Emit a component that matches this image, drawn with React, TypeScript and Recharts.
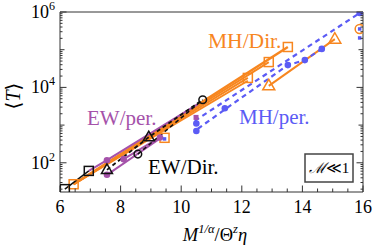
import React from 'react';
import { ComposedChart, Line, Scatter, XAxis, YAxis, Customized } from 'recharts';

const FONT = '"Liberation Serif", "DejaVu Serif", serif';
const ORANGE = '#F7861F';
const BLUE = '#5B5BF5';
const PURPLE = '#A552AA';
const BLACK = '#111111';
const AXIS = '#333333';

// ---- tick values ----
const xTicks = [6, 6.5, 7, 7.5, 8, 8.5, 9, 9.5, 10, 10.5, 11, 11.5, 12, 12.5, 13, 13.5, 14, 14.5, 15, 15.5, 16];
const xLabels = [6, 8, 10, 12, 14, 16];
const yTicks = [
  20, 30, 40, 50, 60, 70, 80, 90,
  100, 200, 300, 400, 500, 600, 700, 800, 900,
  1000, 2000, 3000, 4000, 5000, 6000, 7000, 8000, 9000,
  10000, 20000, 30000, 40000, 50000, 60000, 70000, 80000, 90000,
  100000, 200000, 300000, 400000, 500000, 600000, 700000, 800000, 900000,
  1000000,
];
const yLabels = [100, 10000, 1000000];
const yMidDecades = [1000, 100000];

// ---- EW/Dir. (black) ----
const ewDirSolid = [{ x: 6.16, y: 20 }, { x: 6.95, y: 61 }];
const ewDirDashA = [{ x: 7.55, y: 65 }, { x: 8.93, y: 480 }, { x: 10.71, y: 4700 }];
const ewDirDashB = [{ x: 8.57, y: 170 }, { x: 10.71, y: 4700 }];
const ewDirSquares = [{ x: 6.16, y: 20 }, { x: 6.95, y: 61 }];
const ewDirTriangles = [{ x: 7.55, y: 65 }, { x: 8.93, y: 480 }];
const ewDirCircles = [{ x: 8.57, y: 170 }, { x: 10.71, y: 4700 }];

// ---- EW/per. (purple) ----
const ewPerA = [{ x: 6.95, y: 61 }, { x: 7.55, y: 117 }, { x: 10.55, y: 3600 }];
const ewPerB = [{ x: 7.55, y: 48 }, { x: 9.35, y: 470 }];
const ewPerC = [{ x: 8.1, y: 125 }, { x: 9.35, y: 500 }];
const ewPerDots = [{ x: 7.55, y: 117 }, { x: 7.55, y: 48 }, { x: 8.1, y: 125 }, { x: 9.3, y: 470 }];
const ewPerSquares = [{ x: 10.49, y: 1600 }];

// ---- MH/Dir. (orange) ----
const mhDirA = [{ x: 6.45, y: 27 }, { x: 13.52, y: 118000 }];
const mhDirB = [{ x: 6.45, y: 27 }, { x: 12.89, y: 47000 }];
const mhDirC = [{ x: 6.45, y: 27 }, { x: 12.2, y: 17800 }];
const mhDirD = [{ x: 6.45, y: 27 }, { x: 12.2, y: 15000 }];
const mhDirTri = [{ x: 12.89, y: 11000 }, { x: 15.07, y: 190000 }];
const mhDirSquares = [
  { x: 6.45, y: 27 }, { x: 9.45, y: 460 }, { x: 12.2, y: 17800 },
  { x: 12.89, y: 47000 }, { x: 13.52, y: 118000 },
];
const mhDirTriangles = [{ x: 12.89, y: 11000 }, { x: 15.07, y: 190000 }];
const mhDirCircles = [{ x: 15.89, y: 355000 }];

// ---- MH/per. (blue) ----
const mhPerUpper = [{ x: 10.45, y: 1300 }, { x: 15.89, y: 940000 }];
const mhPerLower = [
  { x: 10.55, y: 800 }, { x: 11.44, y: 2600 }, { x: 13.52, y: 39000 },
  { x: 14.08, y: 53000 }, { x: 14.64, y: 105000 },
];
const mhPerDots = [
  { x: 10.5, y: 1100 }, { x: 10.5, y: 700 }, { x: 11.44, y: 2800 },
  { x: 13.52, y: 39000 }, { x: 14.08, y: 53000 }, { x: 14.64, y: 105000 },
  { x: 15.89, y: 940000 },
];
const mhPerSmall = [{ x: 15.89, y: 205000 }, { x: 15.89, y: 355000 }, { x: 9.45, y: 430 }];

const M = 10;

function isMajorX(v: number) {
  return xLabels.indexOf(v) >= 0;
}
function yKind(v: number) {
  if (yLabels.indexOf(v) >= 0) return 2;
  if (yMidDecades.indexOf(v) >= 0) return 1;
  return 0;
}
const yLen = [2.5, 4.5, 6.5];

function BottomTick(props: any) {
  const { x, y, payload } = props;
  const v = payload.value;
  const ay = y - M;
  const major = isMajorX(v);
  return (
    <g>
      <line x1={x} x2={x} y1={ay} y2={ay - (major ? 6.5 : 3.5)} stroke={AXIS} strokeWidth={1} />
      {major && (
        <text x={x} y={ay + 21} textAnchor="middle" fontSize={18} fontFamily={FONT} fill="#000">
          {v}
        </text>
      )}
    </g>
  );
}
function TopTick(props: any) {
  const { x, y, payload } = props;
  const v = payload.value;
  const ay = y + M;
  const major = isMajorX(v);
  return <line x1={x} x2={x} y1={ay} y2={ay + (major ? 6.5 : 3.5)} stroke={AXIS} strokeWidth={1} />;
}
function LeftTick(props: any) {
  const { x, y, payload } = props;
  const v = payload.value;
  const ax = x + M;
  const k = yKind(v);
  const exp = Math.round(Math.log10(v));
  return (
    <g>
      <line x1={ax} x2={ax + yLen[k]} y1={y} y2={y} stroke={AXIS} strokeWidth={1} />
      {k === 2 && (
        <text x={ax - 5} y={y + 6} textAnchor="end" fontSize={18} fontFamily={FONT} fill="#000">
          <tspan>10</tspan>
          <tspan dy={-8} fontSize={12}>{exp}</tspan>
        </text>
      )}
    </g>
  );
}
function RightTick(props: any) {
  const { x, y, payload } = props;
  const v = payload.value;
  const ax = x - M;
  const k = yKind(v);
  return <line x1={ax} x2={ax - yLen[k]} y1={y} y2={y} stroke={AXIS} strokeWidth={1} />;
}

const openSquare = (color: string, s: number) => (p: any) => (
  <rect x={p.cx - s / 2} y={p.cy - s / 2} width={s} height={s} fill="none" stroke={color} strokeWidth={1.5} />
);
const openTriangle = (color: string, s: number) => (p: any) => {
  const h = s * 0.87;
  const pts = `${p.cx},${p.cy - h * 0.62} ${p.cx - s / 2},${p.cy + h * 0.38} ${p.cx + s / 2},${p.cy + h * 0.38}`;
  return <polygon points={pts} fill="none" stroke={color} strokeWidth={1.5} />;
};
const openCircle = (color: string, r: number) => (p: any) => (
  <circle cx={p.cx} cy={p.cy} r={r} fill="none" stroke={color} strokeWidth={1.5} />
);
const dot = (color: string, r: number) => (p: any) => <circle cx={p.cx} cy={p.cy} r={r} fill={color} />;
const filledSquare = (color: string, s: number) => (p: any) => (
  <rect x={p.cx - s / 2} y={p.cy - s / 2} width={s} height={s} fill={color} />
);

function Annotations() {
  return (
    <g fontFamily={FONT}>
      <text x={208} y={48} fontSize={21.5} fill={ORANGE}>MH/Dir.</text>
      <text x={87} y={125} fontSize={21} fill={PURPLE}>EW/per.</text>
      <text x={239} y={124} fontSize={21} fill={BLUE}>MH/per.</text>
      <text x={148} y={174} fontSize={21} fill="#000">EW/Dir.</text>
      <rect x={305} y={154} width={48} height={28} fill="#fff" stroke="#444" strokeWidth={1.5} />
      <text x={329} y={173} fontSize={15} textAnchor="middle" fill="#000">
        <tspan fontStyle="italic">ℳ</tspan>
        <tspan>≪1</tspan>
      </text>
      <text x={215} y={241} fontSize={18.5} textAnchor="middle" fill="#000" fontStyle="italic">
        <tspan>M</tspan>
        <tspan dy={-8} fontSize={12.5}>1/α</tspan>
        <tspan dy={8} fontStyle="normal">/Θ</tspan>
        <tspan dy={-8} fontSize={12.5}>z</tspan>
        <tspan dy={8}>η</tspan>
      </text>
      <text x={13} y={96} fontSize={20} textAnchor="middle" fill="#000" transform="rotate(-90 13 96)" dominantBaseline="central">
        <tspan fontFamily='"DejaVu Serif", serif'>⟨</tspan>
        <tspan fontStyle="italic">T</tspan>
        <tspan fontFamily='"DejaVu Serif", serif'>⟩</tspan>
      </text>
    </g>
  );
}

export default function App() {
  const lineCommon = { dot: false, isAnimationActive: false, type: 'linear' as const, dataKey: 'y' };
  return (
    <div style={{ position: 'absolute', left: 0, top: 0, background: '#fff' }}>
      <ComposedChart width={374} height={251} margin={{ top: 11, right: 10, bottom: 29, left: 0 }}>
        <XAxis
          xAxisId={0}
          dataKey="x"
          type="number"
          domain={[6, 16]}
          allowDataOverflow
          ticks={xTicks}
          interval={0}
          tickSize={0}
          tickMargin={M}
          height={30}
          tick={<BottomTick />}
          axisLine={{ stroke: AXIS, strokeWidth: 1 }}
        />
        <XAxis
          xAxisId="top"
          orientation="top"
          type="number"
          domain={[6, 16]}
          allowDataOverflow
          ticks={xTicks}
          interval={0}
          tickSize={0}
          tickMargin={M}
          height={1}
          tick={<TopTick />}
          axisLine={{ stroke: AXIS, strokeWidth: 1 }}
        />
        <YAxis
          yAxisId={0}
          dataKey="y"
          type="number"
          scale="log"
          domain={[16.8, 1000000]}
          allowDataOverflow
          ticks={yTicks}
          interval={0}
          tickSize={0}
          tickMargin={M}
          width={60}
          tick={<LeftTick />}
          axisLine={{ stroke: AXIS, strokeWidth: 1 }}
        />
        <YAxis
          yAxisId="right"
          orientation="right"
          type="number"
          scale="log"
          domain={[16.8, 1000000]}
          allowDataOverflow
          ticks={yTicks}
          interval={0}
          tickSize={0}
          tickMargin={M}
          width={1}
          tick={<RightTick />}
          axisLine={{ stroke: AXIS, strokeWidth: 1 }}
        />

        <Line {...lineCommon} data={mhDirD} stroke={ORANGE} strokeWidth={2} />
        <Line {...lineCommon} data={mhDirC} stroke={ORANGE} strokeWidth={2} />
        <Line {...lineCommon} data={mhDirB} stroke={ORANGE} strokeWidth={2} />
        <Line {...lineCommon} data={mhDirA} stroke={ORANGE} strokeWidth={2.5} />
        <Line {...lineCommon} data={mhDirTri} stroke={ORANGE} strokeWidth={2} />

        <Line {...lineCommon} data={ewPerA} stroke={PURPLE} strokeWidth={2} />
        <Line {...lineCommon} data={ewPerB} stroke={PURPLE} strokeWidth={2} />
        <Line {...lineCommon} data={ewPerC} stroke={PURPLE} strokeWidth={2} />

        <Line {...lineCommon} data={ewDirSolid} stroke={BLACK} strokeWidth={1.5} />
        <Line {...lineCommon} data={ewDirDashA} stroke={BLACK} strokeWidth={1.8} strokeDasharray="4 3" />
        <Line {...lineCommon} data={ewDirDashB} stroke={BLACK} strokeWidth={1.5} strokeDasharray="4 3" />

        <Line {...lineCommon} data={mhPerUpper} stroke={BLUE} strokeWidth={2.2} strokeDasharray="5 4" />
        <Line {...lineCommon} data={mhPerLower} stroke={BLUE} strokeWidth={2.2} strokeDasharray="5 4" />

        <Scatter data={mhDirSquares} shape={openSquare(ORANGE, 9)} isAnimationActive={false} />
        <Scatter data={mhDirTriangles} shape={openTriangle(ORANGE, 12)} isAnimationActive={false} />
        <Scatter data={mhDirCircles} shape={openCircle(ORANGE, 4.5)} isAnimationActive={false} />
        <Scatter data={ewPerDots} shape={dot(PURPLE, 3.3)} isAnimationActive={false} />
        <Scatter data={ewPerSquares} shape={filledSquare(PURPLE, 5)} isAnimationActive={false} />
        <Scatter data={mhPerDots} shape={dot(BLUE, 3.3)} isAnimationActive={false} />
        <Scatter data={mhPerSmall} shape={filledSquare(BLUE, 3.5)} isAnimationActive={false} />
        <Scatter data={ewDirSquares} shape={openSquare(BLACK, 9)} isAnimationActive={false} />
        <Scatter data={ewDirTriangles} shape={openTriangle(BLACK, 11)} isAnimationActive={false} />
        <Scatter data={ewDirCircles} shape={openCircle(BLACK, 3.8)} isAnimationActive={false} />

        <Customized component={Annotations} />
      </ComposedChart>
    </div>
  );
}
